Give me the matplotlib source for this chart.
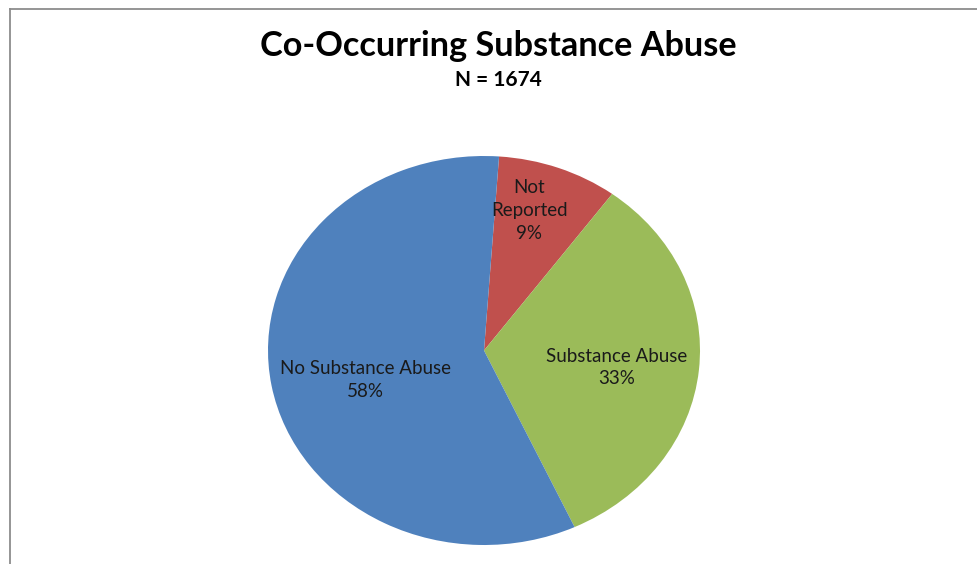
import numpy as np
import matplotlib
matplotlib.use("Agg")
from matplotlib import pyplot as plt
from matplotlib.lines import Line2D

# data
labels = ["Not\nReported", "Substance Abuse", "No Substance Abuse"]
values = [9, 33, 58]
colors = ["#C0504D", "#9BBB59", "#4F81BD"]

plt.rcParams['font.family'] = ['Lato', 'DejaVu Sans']

W, H = 977, 564
fig = plt.figure(figsize=(W / 100, H / 100), dpi=100)
fig.patch.set_facecolor("white")

# chart border (top and left visible)
fig.add_artist(Line2D([9.5 / W, 9.5 / W], [0, 1 - 8.5 / H], transform=fig.transFigure,
                      color="#8c8c8c", lw=1.3))
fig.add_artist(Line2D([9.5 / W, 1], [1 - 8.5 / H, 1 - 8.5 / H], transform=fig.transFigure,
                      color="#8c8c8c", lw=1.3))

# pie area: slightly wider than tall, as in the original
x0, x1, y0, y1 = 268, 700, 156, 545
ax = fig.add_axes([x0 / W, 1 - y1 / H, (x1 - x0) / W, (y1 - y0) / H])
wedges, _ = ax.pie(values, colors=colors, startangle=86, counterclock=False,
                   radius=1, wedgeprops=dict(linewidth=0))
ax.set_aspect("auto")
ax.set_xlim(-1, 1)
ax.set_ylim(-1, 1)
ax.axis("off")

# label placement: radius and angle shift from each wedge's mid angle
offsets = [(0.75, 4), (0.62, -2.3), (0.57, 5)]
for w, lab, v, (r, dth) in zip(wedges, labels, values, offsets):
    mid = np.deg2rad((w.theta1 + w.theta2) / 2 + dth)
    ax.text(r * np.cos(mid), r * np.sin(mid), f"{lab}\n{v}%", ha="center", va="center",
            fontsize=13.5, color="#1a1a1a", linespacing=1.4)

fig.text(498 / W, 1 - 46 / H, "Co-Occurring Substance Abuse", ha="center", va="center",
         fontsize=24.7, fontweight="bold", color="black")
fig.text(498 / W, 1 - 80 / H, "N = 1674", ha="center", va="center",
         fontsize=15, fontweight="bold", color="black")

fig.savefig("out.png", dpi=100, facecolor="white")
